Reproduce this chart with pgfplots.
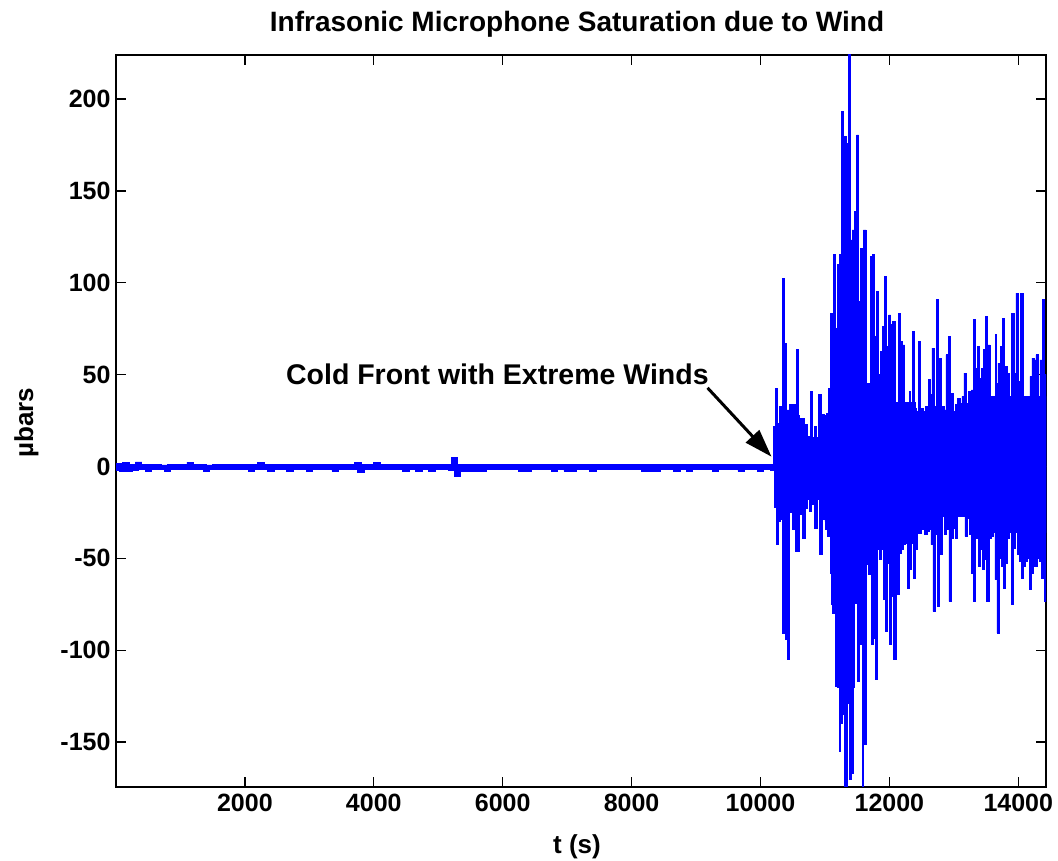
\documentclass[border=0pt]{standalone}
\usepackage{fontspec}
\setmainfont{Liberation Sans}
\usepackage{pgfplots}
\pgfplotsset{compat=1.18}
\usetikzlibrary{arrows.meta}
\definecolor{mblue}{RGB}{0,0,255}
\begin{document}
\begin{tikzpicture}[x=1pt,y=1pt]
\path[use as bounding box] (0,0) rectangle (1058,861);
\begin{axis}[
 at={(116pt,74pt)}, anchor=south west,
 scale only axis, width=930pt, height=732pt,
 xmin=0, xmax=14430, ymin=-174.5, ymax=224,
 scaled x ticks=false, scaled y ticks=false,
 xtick={2000,4000,6000,8000,10000,12000,14000},
 xticklabels={2000,4000,6000,8000,10000,12000,14000},
 ytick={-150,-100,-50,0,50,100,150,200},
 yticklabels={-150,-100,-50,0,50,100,150,200},
 tick align=inside, major tick length=10pt,
 axis line style={line width=1.4pt, black},
 every tick/.style={black, line width=1.2pt},
 ticklabel style={font=\fontsize{25}{30}\selectfont\bfseries},
 xticklabel style={yshift=-4pt},
 yticklabel style={xshift=-2pt},
]
% solid core of the signal after the front (level reached in every pixel column)
\addplot[mblue, fill=mblue, line width=0.7pt, const plot] table {
t v
10201 22
10400 28
10600 16
11000 28
11100 70
11200 110
11450 90
11600 45
11700 62
11800 50
12100 35
12400 30
12700 30
13300 38
14430 38
} \closedcycle;
\addplot[mblue, fill=mblue, line width=0.7pt, const plot] table {
t v
10216 -22
10400 -25
10600 -18
11000 -30
11100 -75
11200 -120
11450 -72
11600 -50
11700 -55
11800 -45
12100 -38
12400 -33
12700 -27
13300 -36
14430 -36
} \closedcycle;
% upper envelope (per-column maxima)
\addplot[mblue, fill=mblue, line width=0.7pt, const plot] table {
t v
0 1.5
100 2.2
200 1.2
300 2.5
400 1.0
500 0.9
600 1.1
700 0.8
800 1.0
900 0.9
1000 1.0
1100 2.3
1200 0.9
1300 1.0
1400 0.8
1500 0.9
1600 1.0
1700 0.9
1800 1.0
1900 0.9
2000 1.0
2100 0.9
2200 2.2
2300 1.0
2400 0.9
2500 1.0
2600 0.9
2700 1.0
2800 0.9
2900 1.0
3000 0.9
3100 1.0
3200 0.9
3300 1.0
3400 0.9
3500 1.0
3600 0.9
3700 2.4
3800 1.0
3900 0.9
4000 2.2
4100 1.0
4200 0.9
4300 1.0
4400 0.9
4500 1.0
4600 0.9
4700 1.0
4800 0.9
4900 1.0
5000 0.9
5100 1.0
5200 4.7
5300 1.0
5400 0.9
5500 1.0
5600 0.9
5700 1.0
5800 0.9
5900 1.0
6000 0.9
6100 1.0
6200 0.9
6300 1.0
6400 0.9
6500 1.0
6600 0.9
6700 1.0
6800 0.9
6900 1.0
7000 0.9
7100 1.0
7200 0.9
7300 1.0
7400 0.9
7500 1.0
7600 0.9
7700 1.0
7800 0.9
7900 1.0
8000 0.9
8100 1.0
8200 0.9
8300 1.0
8400 0.9
8500 1.0
8600 0.9
8700 1.0
8800 0.9
8900 1.0
9000 0.9
9100 1.0
9200 0.9
9300 1.0
9400 0.9
9500 1.0
9600 0.9
9700 1.0
9800 0.9
9900 1.0
10000 0.9
10100 1.2
10201 5
10232 42.6
10263 23.6
10294 32.6
10336 102.5
10367 67.1
10408 30.8
10449 33.6
10490 33.6
10532 33.6
10563 63.5
10594 26.3
10635 26.3
10677 22.7
10728 16.3
10770 40.8
10811 15.5
10842 21.8
10873 12.7
10904 39
10945 28.1
10987 21.8
11018 29
11059 42.6
11090 83.5
11132 115.2
11163 75.3
11194 91.6
11225 115.2
11256 193.1
11287 179.5
11328 176
11359 226
11390 123.3
11421 128.8
11462 138.7
11493 180.5
11524 88.9
11555 118.8
11597 128.8
11638 31.8
11669 43.5
11700 114.3
11731 115.2
11762 70.7
11793 95.2
11834 47.2
11865 62.6
11896 76.2
11927 103.4
11958 65.3
11989 82.5
12020 77.1
12051 78.9
12093 28.1
12134 83.5
12165 68
12206 66.2
12237 32.6
12268 26.3
12310 40.8
12330 32.6
12362 73.4
12393 31.8
12424 20
12455 68
12486 31.8
12527 20
12558 32.6
12599 47.2
12630 39
12661 64.4
12692 32.6
12734 90.7
12765 59
12806 32.6
12847 30.8
12878 60.8
12920 70.7
12951 39.9
12992 18.2
13023 33.6
13054 37.2
13095 34.5
13126 38.1
13157 50.8
13188 34.5
13230 40.8
13271 41.7
13302 80
13333 53.5
13364 65.3
13395 48
13426 53.5
13457 63.5
13488 81.6
13519 66.2
13561 22.7
13602 37.2
13643 71.7
13659 45
13685 56.3
13726 65.3
13757 80.7
13788 54.4
13829 50.8
13860 35.4
13891 83.5
13933 50.8
13948 45
13964 94.3
14005 46.2
14036 94.3
14077 32.6
14108 30.8
14139 37.2
14181 49
14196 40
14212 59
14243 58
14274 60.8
14305 37.2
14336 58
14377 90.7
14405 50
14430 50
} \closedcycle;
% lower envelope (per-column minima)
\addplot[mblue, fill=mblue, line width=0.7pt, const plot] table {
t v
0 -2.0
50 -2.5
150 -2.8
250 -2
350 -1.8
450 -2.6
550 -1.7
650 -1.6
750 -2.4
850 -1.5
950 -1.6
1050 -1.5
1150 -1.7
1250 -1.6
1350 -2.5
1450 -1.5
1550 -1.6
1650 -1.5
1750 -1.7
1850 -1.6
1950 -1.5
2050 -2.6
2150 -1.6
2250 -1.5
2350 -2.7
2450 -1.6
2550 -1.6
2650 -2.5
2750 -1.6
2850 -1.5
2950 -2.6
3050 -1.6
3150 -1.5
3250 -1.6
3350 -2.4
3450 -1.6
3550 -1.5
3650 -1.6
3750 -3.0
3850 -1.5
3950 -1.6
4050 -1.6
4150 -1.5
4250 -1.6
4350 -1.5
4450 -2.8
4550 -1.6
4650 -2.7
4750 -1.6
4850 -2.6
4950 -1.5
5050 -1.6
5150 -2.0
5250 -5.4
5350 -2.6
5450 -2.7
5550 -2.6
5650 -2.8
5750 -1.6
5850 -1.5
5950 -1.6
6050 -1.5
6150 -1.6
6250 -2.7
6350 -2.6
6450 -1.5
6550 -1.6
6650 -1.5
6750 -2.7
6850 -1.6
6950 -2.6
7050 -2.7
7150 -1.5
7250 -1.6
7350 -2.8
7450 -1.5
7550 -1.6
7650 -1.5
7750 -1.6
7850 -1.5
7950 -1.6
8050 -1.5
8150 -2.7
8250 -2.6
8350 -2.7
8450 -1.6
8550 -1.5
8650 -2.7
8750 -1.6
8850 -2.6
8950 -1.5
9050 -1.6
9150 -1.5
9250 -2.7
9350 -1.6
9450 -1.5
9550 -1.6
9650 -2.6
9750 -1.5
9850 -1.6
9950 -2.7
10050 -1.6
10150 -2.0
10216 -3
10247 -42.6
10278 -29.9
10309 -29
10340 -90.6
10382 -94.3
10423 -105.2
10454 -19.9
10495 -34.4
10547 -46.2
10578 -46.2
10609 -26.3
10650 -39
10692 -22.6
10723 -12.7
10754 -24.5
10795 -20.8
10836 -33.5
10878 -14.5
10919 -48
10960 -29
11002 -34.4
11043 -38.1
11085 -58
11116 -79.8
11157 -119.7
11188 -87
11229 -155
11240 -140
11271 -135.1
11302 -176
11343 -128.7
11374 -170.5
11405 -166.8
11446 -72.5
11477 -74.3
11508 -117
11539 -97
11581 -176
11601 -151.4
11643 -53.5
11674 -58.9
11715 -97
11746 -93.4
11777 -116
11808 -44.4
11839 -50.8
11880 -45.3
11911 -72.5
11942 -89.8
11973 -52.6
12004 -97
12035 -70.7
12066 -105.2
12108 -69.8
12149 -47.1
12180 -45.3
12221 -42.6
12252 -41.7
12283 -66.2
12314 -56.2
12345 -41.7
12377 -60.7
12408 -45.3
12439 -36.2
12470 -36.2
12501 -34.4
12542 -37.2
12583 -35.4
12614 -34.4
12645 -42.6
12676 -78.9
12718 -37.2
12749 -76.2
12780 -48
12821 -26.3
12852 -37.2
12883 -34.4
12924 -73.4
12955 -39
12986 -33.5
13028 -39
13059 -20
13090 -24.5
13131 -23.6
13172 -38.1
13214 -28
13245 -37.2
13276 -58
13307 -73.4
13338 -39
13379 -54.4
13410 -45.3
13441 -56.2
13472 -50.8
13503 -73.4
13544 -39
13576 -38.1
13607 -26.3
13638 -61.6
13669 -90.6
13700 -49.8
13741 -54.4
13772 -66.2
13803 -52.6
13834 -39
13865 -32.6
13896 -75.2
13927 -44.4
13958 -29.9
13989 -48
14020 -51.7
14051 -60.7
14082 -54.4
14113 -51.7
14144 -49.8
14175 -67.1
14206 -58
14237 -54.4
14268 -54.4
14299 -49.8
14330 -51.7
14361 -60.7
14402 -73.4
14430 -73.4
} \closedcycle;
\draw[black, line width=3pt, -{Triangle[length=28pt,width=18pt]}] (axis cs:9178,42.8) -- (axis cs:10171,5.3);
\node[anchor=base west, inner sep=0pt, font=\fontsize{28.5}{33}\selectfont\bfseries] at (axis cs:2636,44.5) {Cold Front with Extreme Winds};
\end{axis}
\node[anchor=base, inner sep=0pt, font=\fontsize{28}{34}\selectfont\bfseries] at (577,829) {Infrasonic Microphone Saturation due to Wind};
\node[anchor=base, inner sep=0pt, font=\fontsize{26}{31}\selectfont\bfseries] at (577,7) {t (s)};
\node[anchor=base, rotate=90, inner sep=0pt, font=\fontsize{26}{31}\selectfont\bfseries] at (33,438.5) {µbars};
\end{tikzpicture}
\end{document}
